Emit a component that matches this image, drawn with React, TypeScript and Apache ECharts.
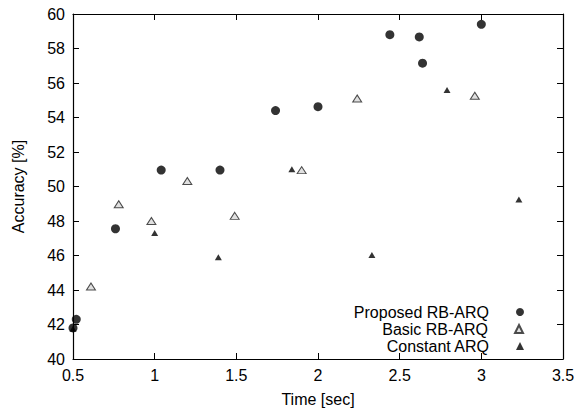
import React, { useEffect, useRef } from "react";
import * as echarts from "echarts";

const proposedRB: [number, number][] = [
  [0.52, 42.3], [0.5, 41.8], [0.76, 47.55], [1.04, 50.95], [1.4, 50.95],
  [1.74, 54.4], [2.0, 54.63], [2.44, 58.8], [2.62, 58.67], [2.64, 57.15], [3.0, 59.4],
];
const basicRB: [number, number][] = [
  [0.61, 44.2], [0.78, 48.97], [0.98, 48.0], [1.2, 50.32], [1.49, 48.3],
  [1.9, 50.95], [2.24, 55.1], [2.96, 55.26],
];
const constantARQ: [number, number][] = [
  [0.5, 41.75], [1.0, 47.3], [1.39, 45.9], [1.84, 51.0], [2.33, 46.03],
  [2.79, 55.6], [3.23, 49.25],
];
const seriesNames = ["Proposed RB-ARQ", "Basic RB-ARQ", "Constant ARQ"];

const FONT = "Liberation Sans, Arial, Helvetica, sans-serif";
const FS = 16;

export default function App() {
  const ref = useRef<HTMLDivElement>(null);
  useEffect(() => {
    if (!ref.current) return;
    const chart = echarts.init(ref.current, undefined, { renderer: "svg" });
    const axisLine = { show: true, lineStyle: { color: "#000", width: 1.2 } };
    const xBase = {
      type: "value" as const, min: 0.5, max: 3.5, interval: 0.5,
      axisLine, splitLine: { show: false },
      axisTick: { show: true, inside: true, length: 6, lineStyle: { color: "#000", width: 1 } },
    };
    const yBase = {
      type: "value" as const, min: 40, max: 60, interval: 2,
      axisLine, splitLine: { show: false },
      axisTick: { show: true, inside: true, length: 6, lineStyle: { color: "#000", width: 1 } },
    };
    const legendBase = {
      orient: "horizontal" as const, right: 50, align: "right" as const,
      itemWidth: 8, itemHeight: 8,
      textStyle: { fontFamily: FONT, fontSize: FS, color: "#000", padding: [0, 22, 0, 0] },
      selectedMode: false,
    };
    chart.setOption({
      animation: false,
      textStyle: { fontFamily: FONT },
      grid: { left: 73, top: 14, right: 16, bottom: 55 },
      xAxis: [
        {
          ...xBase, position: "bottom",
          name: "Time [sec]", nameLocation: "middle", nameGap: 32,
          nameTextStyle: { fontFamily: FONT, fontSize: FS, color: "#000" },
          axisLabel: { fontFamily: FONT, fontSize: FS, color: "#000", margin: 8,
            formatter: (v: number) => String(v) },
        },
        { ...xBase, position: "top", axisLabel: { show: false } },
      ],
      yAxis: [
        {
          ...yBase, position: "left",
          name: "Accuracy [%]", nameLocation: "middle", nameGap: 47,
          nameTextStyle: { fontFamily: FONT, fontSize: FS, color: "#000" },
          axisLabel: { fontFamily: FONT, fontSize: FS, color: "#000", margin: 8 },
        },
        { ...yBase, position: "right", axisLabel: { show: false } },
      ],
      legend: [
        { ...legendBase, top: 299, data: [{ name: seriesNames[0], icon: "circle" }] },
        { ...legendBase, top: 316, data: [{ name: seriesNames[1], icon: "triangle" }] },
        { ...legendBase, top: 333, data: [{ name: seriesNames[2], icon: "triangle" }] },
      ],
      series: [
        {
          name: seriesNames[0], type: "scatter", data: proposedRB, symbol: "circle", symbolSize: 9,
          itemStyle: { color: "#000" },
        },
        {
          name: seriesNames[1], type: "scatter", data: basicRB, symbol: "triangle", symbolSize: [9, 7],
          itemStyle: { color: "#d8d8d8", borderColor: "#222", borderWidth: 1 },
        },
        {
          name: seriesNames[2], type: "scatter", data: constantARQ, symbol: "triangle", symbolSize: [7, 6],
          itemStyle: { color: "#000" },
        },
      ],
    });
    return () => chart.dispose();
  }, []);
  return (
    <div
      ref={ref}
      style={{ position: "absolute", left: 0, top: 0, width: 579, height: 414 }}
    />
  );
}
